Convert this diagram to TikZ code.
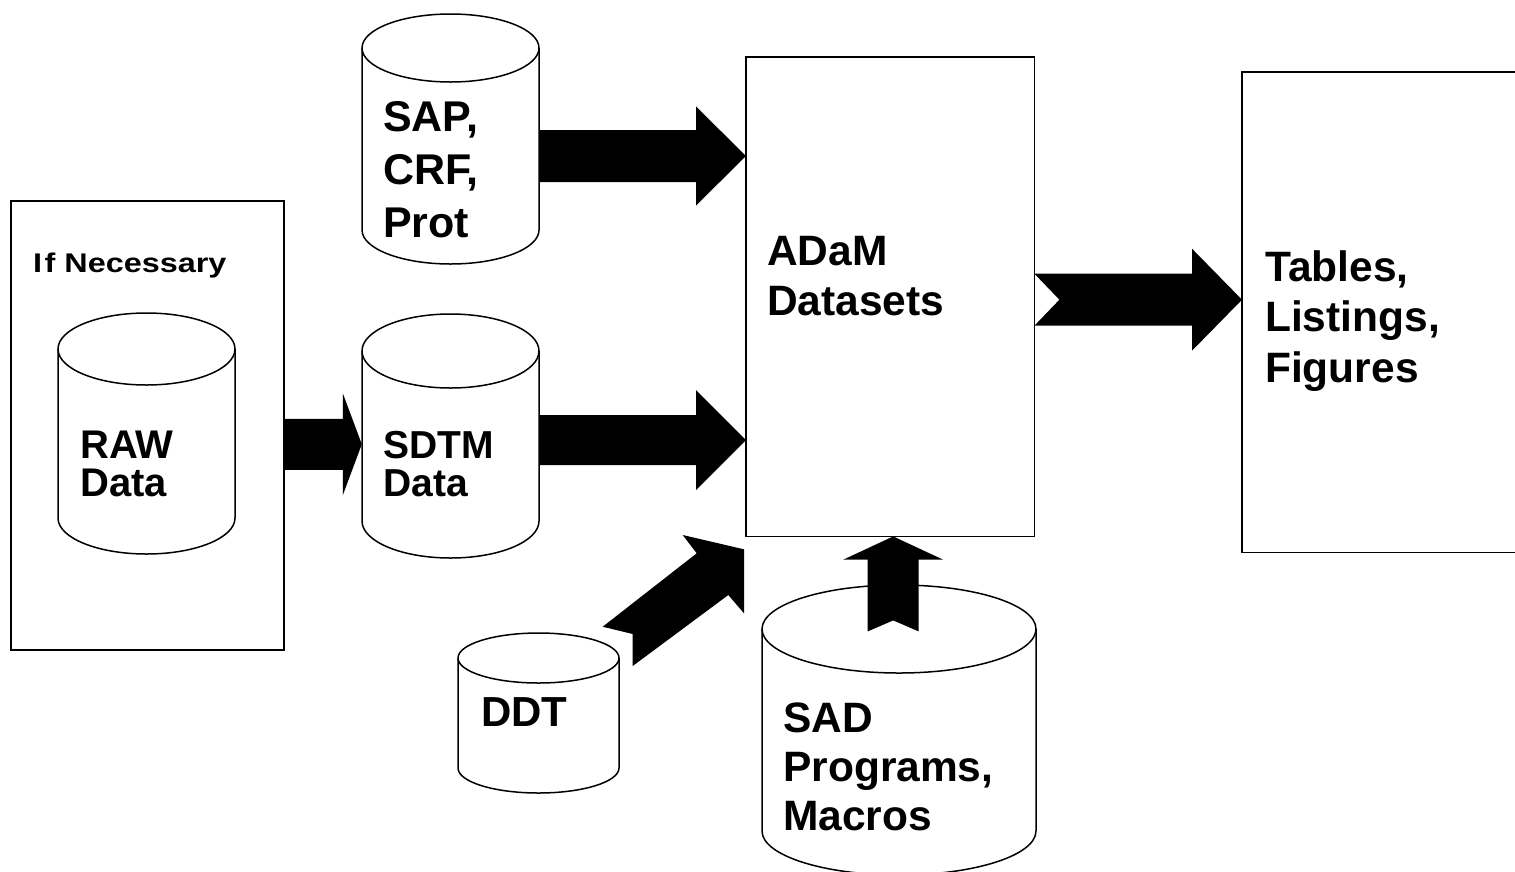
\documentclass[tikz,border=0pt]{standalone}
\usepackage{fontspec}
\setmainfont{Liberation Sans}
\usetikzlibrary{calc}
\tikzset{
  box/.style={draw, line width=1.5pt, fill=white, inner sep=0pt, anchor=north west},
  cylline/.style={draw, line width=1.5pt, fill=white},
  lbl/.style={inner sep=0pt, anchor=base west},
  blockfill/.style={fill=black, draw=none},
}
% cylinder: name, x1, x2, y of top ellipse centre, y of bottom ellipse centre, y radius
\newcommand\dbcyl[6]{%
  \pgfmathsetmacro\cylrx{(#3-#2)/2}%
  \draw[cylline] (#2,#4) -- (#2,#5) arc[start angle=180,end angle=360,x radius=\cylrx pt,y radius=#6pt]
     -- (#3,#4) arc[start angle=0,end angle=180,x radius=\cylrx pt,y radius=#6pt] -- cycle;
  \draw[cylline, fill=none] (#2,#4) arc[start angle=180,end angle=360,x radius=\cylrx pt,y radius=#6pt];
  \pgfmathsetmacro\cylw{#3-#2}%
  \pgfmathsetmacro\cylh{#5-#4+2*#6}%
  \node[inner sep=0pt, minimum width=\cylw pt, minimum height=\cylh pt] (#1) at ({(#2+#3)/2},{(#4+#5)/2}) {};
}
% block arrow: start, end, shaft half width, head half width, head length, tail notch depth
\newcommand\barrow[6]{%
  \path #1 coordinate (ba-s) #2 coordinate (ba-e);
  \pgfpointdiff{\pgfpointanchor{ba-s}{center}}{\pgfpointanchor{ba-e}{center}}%
  \pgfgetlastxy{\bax}{\bay}%
  \pgfmathsetmacro\baang{atan2(\bay,\bax)}%
  \pgfmathsetmacro\balen{veclen(\bax,\bay)}%
  \fill[blockfill, shift={(ba-s)}, rotate=\baang]
    ({0pt},{#3pt}) -- ({\balen pt-#5pt},{#3pt}) -- ({\balen pt-#5pt},{#4pt}) -- ({\balen pt},{0pt})
    -- ({\balen pt-#5pt},{-#4pt}) -- ({\balen pt-#5pt},{-#3pt}) -- ({0pt},{-#3pt}) -- ({#6pt},{0pt}) -- cycle;
}
\begin{document}
\begin{tikzpicture}[x=1pt,y=-1pt]
\useasboundingbox (0,0) rectangle (1515,871);
\clip (0,0) rectangle (1515,871);
% left box
\node[box, minimum width=273pt, minimum height=449pt] (nec) at (10,200) {};
% cylinders
\dbcyl{raw}{58}{235}{349}{518}{36}
\dbcyl{sap}{362}{539}{48}{230}{34}
\dbcyl{sdtm}{362}{539}{351}{521}{37}
\dbcyl{ddt}{458}{619}{658}{768}{25}
\dbcyl{sad}{762}{1036}{629}{831}{44}
% boxes (placed first for arrows)
\node[inner sep=0pt, minimum width=288pt, minimum height=479pt, anchor=north west] (adam) at (746,57) {};
\node[inner sep=0pt, minimum width=300pt, minimum height=480pt, anchor=north west] (tlf) at (1242,72) {};
% arrows
\coordinate (s1) at ($(sap.east)+(0,17)$);
\barrow{(s1)}{(s1 -| adam.west)}{26}{49.5}{50}{0}
\coordinate (s2) at ($(sdtm.east)+(0,4)$);
\barrow{(s2)}{(s2 -| adam.west)}{25}{50}{50}{0}
\coordinate (s3) at ($(nec.east)+(0,19)$);
\barrow{(s3)}{(s3 -| sdtm.west)}{25.5}{51}{19}{0}
\coordinate (s4) at ($(adam.south)+(3,95)$);
\coordinate (e4) at ($(adam.south)+(3,0)$);
\barrow{(s4)}{(e4)}{25.5}{50}{23.3}{11}
\coordinate (s5) at ($(adam.east)+(0,3)$);
\barrow{(s5)}{(s5 -| tlf.west)}{26}{51}{50}{25}
\fill[blockfill] (602.7,626.7) -- (696.7,553.3) -- (682.7,535) -- (744,549.3) -- (744,613.3)
  -- (728.3,595) -- (632.7,666) -- (632.7,634) -- cycle;
% box outlines on top
\draw[line width=1.5pt, fill=white] (adam.north west) rectangle (adam.south east);
\draw[line width=1.5pt, fill=white] (tlf.north west) rectangle (tlf.south east);
% labels
\node[lbl, font=\bfseries\fontsize{27}{30}\selectfont] (tnec) at (33,272) {\scalebox{1.2}[1]{I\kern2pt f Necessary}};
\node[lbl, font=\bfseries\fontsize{40}{38}\selectfont] (traw) at (80,458) {\vtop{\hbox{RAW}\hbox{Data}}};
\node[lbl, font=\bfseries\fontsize{39}{38}\selectfont] (tsdtm) at (383,458) {\vtop{\hbox{SDTM}\hbox{Data}}};
\node[lbl, font=\bfseries\fontsize{43}{53}\selectfont] (tsap) at (383,131) {\vtop{\hbox{SAP,}\hbox{CRF,}\hbox{Prot}}};
\node[lbl, font=\bfseries\fontsize{42.5}{50}\selectfont] (tadam) at (767,265) {\vtop{\hbox{ADaM}\hbox{Datasets}}};
\node[lbl, font=\bfseries\fontsize{42.5}{50.5}\selectfont] (ttlf) at (1265,281) {\vtop{\hbox{Tables,}\hbox{Listings,}\hbox{Figures}}};
\node[lbl, font=\bfseries\fontsize{42}{48}\selectfont] (tddt) at (481,726) {DDT};
\node[lbl, font=\bfseries\fontsize{42.5}{49}\selectfont] (tsad) at (783,732) {\vtop{\hbox{SAD}\hbox{Programs,}\hbox{Macros}}};
\end{tikzpicture}
\end{document}
